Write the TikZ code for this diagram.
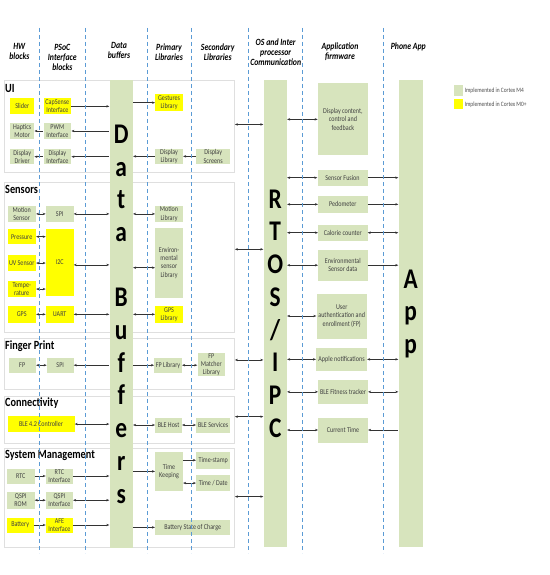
\documentclass[tikz,border=0pt]{standalone}
\usepackage{fontspec}
\setmainfont{Carlito}[FakeStretch=0.82]
\usetikzlibrary{positioning}
\usetikzlibrary{arrows.meta}
\definecolor{m4green}{RGB}{215,228,189}
\definecolor{m0yellow}{RGB}{255,255,0}
\definecolor{laneblue}{RGB}{91,155,213}

\begin{document}
\begin{tikzpicture}[x=1pt, y=-1pt, >={Stealth[length=3pt,width=2.4pt]},
                    blk/.style={rectangle, inner sep=0, anchor=north west, align=center, text=black!75, font=\fontsize{7.4}{8.3}\selectfont},
                    m4/.style={blk, fill=m4green},
                    m0/.style={blk, fill=m0yellow},
                    sect/.style={rectangle, draw=gray!25, line width=0.6pt, fill=white, anchor=north west, inner sep=0},
                    sectlbl/.style={anchor=west, inner sep=0, font=\fontsize{12.5}{14}\selectfont\bfseries},
                    bar/.style={rectangle, fill=m4green, inner sep=0, anchor=north west, align=center, font=\fontsize{28.5}{32.7}\selectfont\bfseries},
                    head/.style={align=center, inner sep=0, font=\fontsize{9.5}{10}\selectfont\bfseries\itshape},
                    lane/.style={draw=laneblue, line width=0.7pt, dash pattern=on 4pt off 3pt},
                    link/.style={draw=black!80, line width=0.5pt}]
\useasboundingbox (0,0) rectangle (549,575);
% column heads
\node (hhw) [head] at (19.3,51.7) {HW\\blocks};
\node (hpsoc) [head] at (62.3,57) {PSoC\\Interface\\blocks};
\node (hbuf) [head] at (119,50) {Data\\buffers};
\node (hprim) [head] at (169,52) {Primary\\Libraries};
\node (hsec) [head] at (217.7,52) {Secondary\\Libraries};
\node (hos) [head] at (275.7,52) {OS and Inter\\processor\\Communication};
\node (happfw) [head] at (340,52) {Application\\firmware};
\node (hphone) [head] at (408.3,47) {Phone App};
% sections
\node (uisec) [sect, minimum width=230, minimum height=92.3] at (4.3,80) {};
\node (sensec) [sect, minimum width=230, minimum height=150.6] at (4.3,181.7) {};
\node (fpsec) [sect, minimum width=230, minimum height=50.7] at (4.3,338.3) {};
\node (consec) [sect, minimum width=230, minimum height=46.7] at (4.3,396) {};
\node (syssec) [sect, minimum width=230, minimum height=99] at (4.3,448.3) {};
\node (uilbl) [sectlbl] at (5,88) {UI};
\node (senlbl) [sectlbl] at (5,189.3) {Sensors};
\node (fplbl) [sectlbl] at (5,346) {Finger Print};
\node (conlbl) [sectlbl] at (5,402.7) {Connectivity};
\node (syslbl) [sectlbl] at (5,455.3) {System Management};
% bars
\node (buf) [bar, minimum width=23.4, minimum height=467.7] at (109.3,80) {D\\a\\t\\a\\[32.7pt]B\\u\\f\\f\\e\\r\\s};
\node (rtos) [bar, minimum width=23.4, minimum height=466.7] at (263.3,80) {R\\T\\O\\S\\/\\I\\P\\C};
\node (app) [bar, minimum width=24.4, minimum height=467] at (398.3,80) {A\\p\\p};
% UI
\node (slider) [m0, minimum width=24, minimum height=15.7] at (10,98.3) {Slider};
\node (capsense) [m0, minimum width=27.7, minimum height=15.7] at (43.3,98.3) {CapSense\\Interface};
\node (haptics) [m4, minimum width=24, minimum height=15] at (10,123.3) {Haptics\\Motor};
\node (pwm) [m4, minimum width=27.7, minimum height=15] at (43.3,123.3) {PWM\\Interface};
\node (dispdrv) [m4, minimum width=24, minimum height=15] at (10,149) {Display\\Driver};
\node (dispif) [m4, minimum width=27.7, minimum height=15] at (43.3,149) {Display\\Interface};
\node (gestures) [m0, minimum width=27.7, minimum height=16.4] at (155,94.3) {Gestures\\Library};
\node (displib) [m4, minimum width=27.7, minimum height=15.7] at (155,148.3) {Display\\Library};
\node (dispscr) [m4, minimum width=34, minimum height=15.7] at (196,148.3) {Display\\Screens};
% Sensors
\node (motion) [m4, minimum width=28.4, minimum height=16] at (7.3,205.7) {Motion\\Sensor};
\node (spi) [m4, minimum width=27.6, minimum height=16] at (45.7,205.7) {SPI};
\node (pressure) [m0, minimum width=28.4, minimum height=15] at (7.3,229) {Pressure};
\node (uv) [m0, minimum width=28.4, minimum height=15.7] at (7.3,255) {UV Sensor};
\node (temp) [m0, minimum width=28.4, minimum height=15.7] at (7.3,281) {Tempe-\\rature};
\node (gps) [m0, minimum width=28.4, minimum height=16.3] at (7.3,306) {GPS};
\node (i2c) [m0, minimum width=27.6, minimum height=67.4] at (45.7,228.3) {I2C};
\node (uart) [m0, minimum width=27.6, minimum height=16.3] at (45.7,306) {UART};
\node (motionlib) [m4, minimum width=27.7, minimum height=16] at (155,205.7) {Motion\\Library};
\node (envlib) [m4, minimum width=27.7, minimum height=70.4] at (155,227.3) {Environ-\\mental\\sensor\\Library};
\node (gpslib) [m0, minimum width=27.7, minimum height=16.3] at (155,306) {GPS\\Library};
% Finger Print
\node (fp) [m4, minimum width=27.4, minimum height=15.4] at (8.3,357.3) {FP};
\node (fpspi) [m4, minimum width=26.6, minimum height=15.4] at (46.7,357.3) {SPI};
\node (fplib) [m4, minimum width=27.7, minimum height=15.4] at (154,357.3) {FP Library};
\node (fpmatch) [m4, minimum width=27.7, minimum height=23.3] at (197.3,352.7) {FP\\Matcher\\Library};
% Connectivity
\node (blectrl) [m0, minimum width=67, minimum height=15.7] at (7.3,416) {BLE 4.2 Controller};
\node (blehost) [m4, minimum width=26.7, minimum height=15] at (155,417.3) {BLE Host};
\node (bleserv) [m4, minimum width=34, minimum height=15] at (196,417.3) {BLE Services};
% System Management
\node (rtc) [m4, minimum width=27.6, minimum height=15] at (6.7,468.3) {RTC};
\node (rtcif) [m4, minimum width=27, minimum height=15] at (45.7,468.3) {RTC\\Interface};
\node (qspirom) [m4, minimum width=27.6, minimum height=16.6] at (6.7,491.7) {QSPI\\ROM};
\node (qspiif) [m4, minimum width=27, minimum height=16.6] at (45.7,491.7) {QSPI\\Interface};
\node (battery) [m0, minimum width=26.6, minimum height=15] at (6.7,517.3) {Battery};
\node (afe) [m0, minimum width=27, minimum height=15] at (45.7,517.3) {AFE\\Interface};
\node (timekeep) [m4, minimum width=27.7, minimum height=39] at (155,451.7) {Time\\Keeping};
\node (timestamp) [m4, minimum width=34, minimum height=16.6] at (196,451.7) {Time-stamp};
\node (timedate) [m4, minimum width=34, minimum height=15.7] at (196,475) {Time / Date};
\node (soc) [m4, minimum width=75, minimum height=15.7] at (155,519.3) {Battery State of Charge};
% application firmware
\node (dispcont) [m4, minimum width=50, minimum height=71.7] at (317.7,83.3) {Display content,\\control and\\feedback};
\node (fusion) [m4, minimum width=50, minimum height=16.4] at (317.3,169.3) {Sensor Fusion};
\node (pedo) [m4, minimum width=49.3, minimum height=16.3] at (318,196) {Pedometer};
\node (calorie) [m4, minimum width=49.3, minimum height=16.4] at (318,224.3) {Calorie counter};
\node (envdata) [m4, minimum width=49.3, minimum height=31.4] at (318,249.3) {Environmental\\Sensor data};
\node (userauth) [m4, minimum width=50.4, minimum height=45] at (316.3,293.3) {User\\authentication and\\enrollment (FP)};
\node (apple) [m4, minimum width=50.7, minimum height=23.7] at (316,347.3) {Apple notifications};
\node (fitness) [m4, minimum width=49.7, minimum height=23.3] at (318,380) {BLE Fitness tracker};
\node (curtime) [m4, minimum width=49.7, minimum height=25] at (318,417.3) {Current Time};
% legend
\node (legm4) [m4, minimum width=9.4, minimum height=10.7] at (453.3,85) {};
\node (legm0) [m0, minimum width=9.4, minimum height=10] at (453.3,99.3) {};
\node (legm4txt) [right=1.5pt of legm4, inner sep=0, text=black!70, font=\fontsize{6.6}{7}\selectfont] {Implemented in Cortex M4};
\node (legm0txt) [right=1.5pt of legm0, inner sep=0, text=black!70, font=\fontsize{6.6}{7}\selectfont] {Implemented in Cortex M0+};
% UI links
\draw[link,->] (capsense.east) -- (capsense.east -| buf.west);
\draw[link,<-] (pwm.east) -- (pwm.east -| buf.west);
\draw[link,<-] (haptics.east) -- (pwm.west);
\draw[link,<-] (dispdrv.east) -- (dispif.west);
\draw[link,<-] (dispif.east) -- (dispif.east -| buf.west);
\draw[link,->] (gestures.west -| buf.east) -- (gestures.west);
\draw[link,<-] (displib.west -| buf.east) -- (displib.west);
\draw[link,<-] (displib.east) -- (dispscr.west);
\draw[link,<->] ([yshift=2]uisec.east) -- ([yshift=2]uisec.east -| rtos.west);
% Sensors links
\draw[link,<->] (motion.east) -- (spi.west);
\draw[link,<->] (spi.east) -- (spi.east -| buf.west);
\draw[link,<->] (motionlib.west -| buf.east) -- (motionlib.west);
\draw[link,<->] (pressure.east) -- (pressure.east -| i2c.west);
\draw[link,<->] (uv.east) -- (uv.east -| i2c.west);
\draw[link,<->] (temp.east) -- (temp.east -| i2c.west);
\draw[link,<->] ([yshift=-2.7]i2c.east) -- ([yshift=-2.7]i2c.east -| buf.west);
\draw[link,<->] ([yshift=-5]envlib.west -| buf.east) -- ([yshift=-5]envlib.west);
\draw[link,<->] (gps.east) -- (uart.west);
\draw[link,<->] (uart.east) -- (uart.east -| buf.west);
\draw[link,<->] (gpslib.west -| buf.east) -- (gpslib.west);
\draw[link,<->] ([yshift=8]sensec.east) -- ([yshift=8]sensec.east -| rtos.west);
% Finger Print links
\draw[link,<->] (fp.east) -- (fpspi.west);
\draw[link,<-] (fpspi.east) -- (fpspi.east -| buf.west);
\draw[link,->] (fplib.west -| buf.east) -- (fplib.west);
\draw[link,<->] (fplib.east) -- (fplib.east -| fpmatch.west);
\draw[link,<->] ([yshift=4]fpsec.east) -- ([yshift=4]fpsec.east -| rtos.west);
% Connectivity links
\draw[link,<->] (blectrl.east) -- (blectrl.east -| buf.west);
\draw[link,<->] (blehost.west -| buf.east) -- (blehost.west);
\draw[link,<->] (blehost.east) -- (bleserv.west);
\draw[link,<->] ([yshift=3]consec.east) -- ([yshift=3]consec.east -| rtos.west);
% System Management links
\draw[link,->] (rtc.east) -- (rtcif.west);
\draw[link,->] (rtcif.east) -- (rtcif.east -| buf.west);
\draw[link,<->] (qspirom.east) -- (qspiif.west);
\draw[link,<->] (qspiif.east) -- (qspiif.east -| buf.west);
\draw[link,->] (battery.east) -- (afe.west);
\draw[link,->] (afe.east) -- (afe.east -| buf.west);
\draw[link,->] (timekeep.west -| buf.east) -- (timekeep.west);
\draw[link,->] (timestamp.west -| timekeep.east) -- (timestamp.west);
\draw[link,<->] (timedate.west -| timekeep.east) -- (timedate.west);
\draw[link,->] (soc.west -| buf.east) -- (soc.west);
\draw[link,<->] ([yshift=1.5]syssec.east) -- ([yshift=1.5]syssec.east -| rtos.west);
% application links
\draw[link,<->] (dispcont.west -| rtos.east) -- (dispcont.west);
\draw[link,<->] (fusion.west -| rtos.east) -- (fusion.west);
\draw[link,->] (fusion.east) -- (fusion.east -| app.west);
\draw[link,<->] (pedo.west -| rtos.east) -- (pedo.west);
\draw[link,->] (pedo.east) -- (pedo.east -| app.west);
\draw[link,<->] (calorie.west -| rtos.east) -- (calorie.west);
\draw[link,<->] (calorie.east) -- (calorie.east -| app.west);
\draw[link,<->] (envdata.west -| rtos.east) -- (envdata.west);
\draw[link,->] (envdata.east) -- (envdata.east -| app.west);
\draw[link,<->] (userauth.west -| rtos.east) -- (userauth.west);
\draw[link,<->] (apple.west -| rtos.east) -- (apple.west);
\draw[link,<->] (apple.east) -- (apple.east -| app.west);
\draw[link,<->] (fitness.west -| rtos.east) -- (fitness.west);
\draw[link,<->] (fitness.east) -- (fitness.east -| app.west);
\draw[link,<->] (curtime.west -| rtos.east) -- (curtime.west);
\draw[link,<-] (curtime.east) -- (curtime.east -| app.west);
% lanes
\foreach \x in {39.3,85.7,147.7,191,248.3,302.7,383.7}
  \draw[lane] (\x,28) -- (\x,553);
\end{tikzpicture}
\end{document}
